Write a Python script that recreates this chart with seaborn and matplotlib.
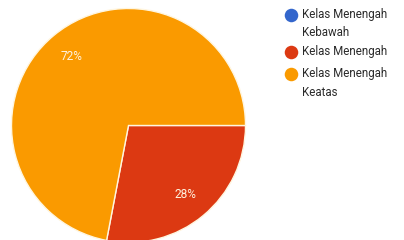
import matplotlib
matplotlib.use("Agg")
import matplotlib.pyplot as plt
import seaborn as sns

categories = ["Kelas Menengah\nKebawah", "Kelas Menengah", "Kelas Menengah\nKeatas"]
values = [0, 28, 72]
colors = ["#3366cc", "#dc3912", "#fa9a00"]

sns.set_theme(style="white")
plt.rcParams["font.family"] = ["Roboto", "DejaVu Sans"]

W, H = 404, 240
fig = plt.figure(figsize=(W / 100, H / 100), dpi=100)
ax = fig.add_axes([0, 0, 1, 1])

cx, cy, r = 128.5, 240 - 125.5, 117

def fmt(p):
    return f"{p:.0f}%" if p >= 1 else ""

wedges, texts, autotexts = ax.pie(
    values, colors=colors, startangle=0, counterclock=False,
    center=(cx, cy), radius=r, autopct=fmt, pctdistance=0.76,
    wedgeprops=dict(edgecolor="#fff6e0", linewidth=1.0),
    textprops=dict(color="#fff3e0", fontsize=8.6),
)
ax.set_xlim(0, W)
ax.set_ylim(0, H)
ax.set_aspect("auto")
ax.axis("off")

# legend
cx_leg = 291
ys = [15, 52, 74]
for cat, col, y in zip(categories, colors, ys):
    ax.scatter([cx_leg], [H - y], s=95, color=col, marker="o", linewidths=0, zorder=5)
    ax.text(302, H - y + 7, cat, fontsize=8.3, color="#2a2a2a", va="top",
            ha="left", linespacing=1.55)

fig.savefig("out.png", dpi=100)
